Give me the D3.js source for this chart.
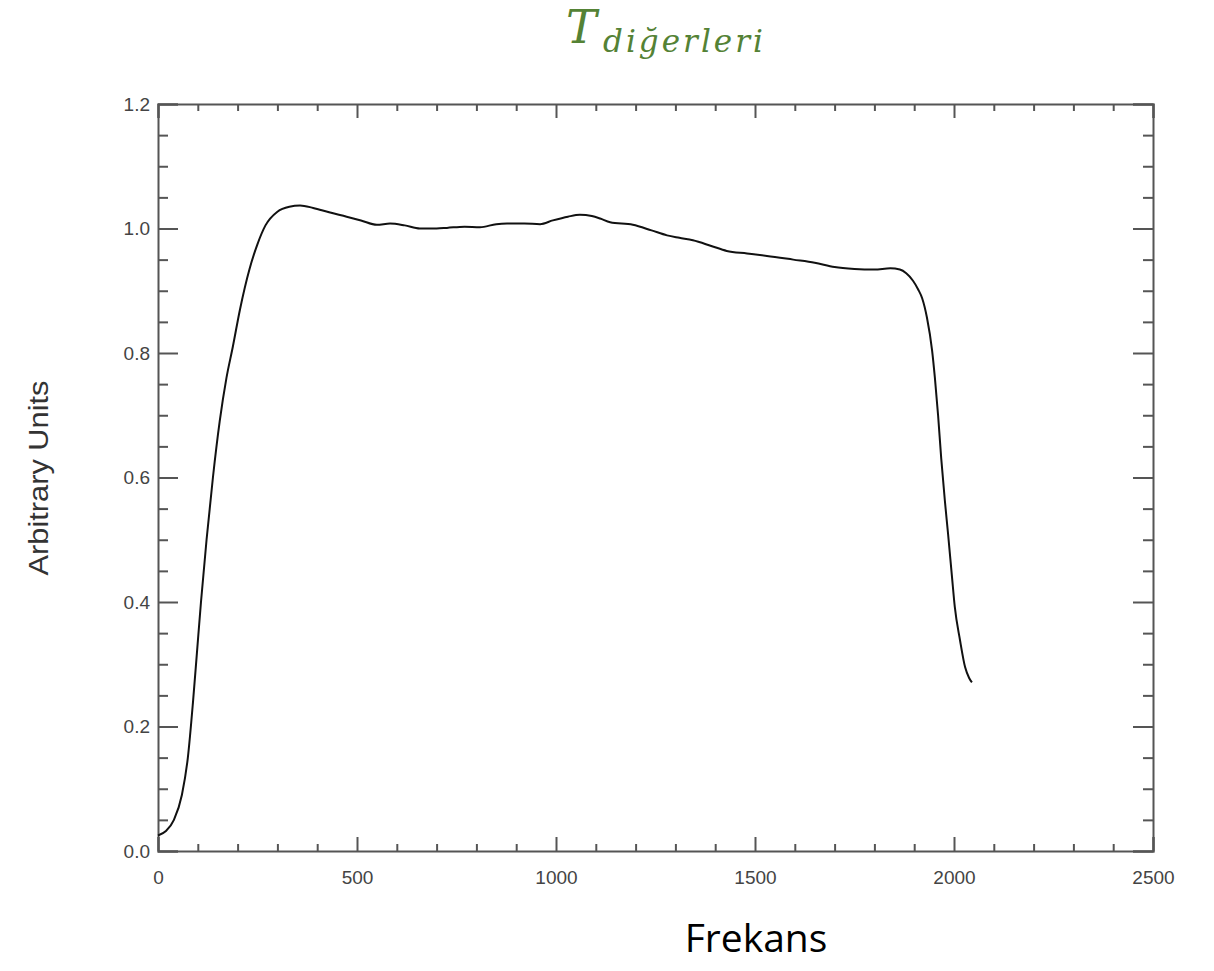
<!DOCTYPE html>
<html>
<head>
<meta charset="utf-8">
<script src="https://cdn.jsdelivr.net/npm/d3@7"></script>
<style>
  body { margin: 0; background: #fff; }
  .axis path, .axis line { stroke: #555; stroke-width: 2; }
  .axis text { fill: #444; font-family: "Liberation Sans", Arial, sans-serif; font-size: 19px; }
</style>
</head>
<body>
<div id="chart"></div>
<script>
// frequency (x) and response (y)
var freq = [0, 20, 40, 60, 75, 88, 98, 108, 122, 138, 155, 172, 188, 206, 230, 250, 270, 300, 330, 357,
  390, 430, 474, 510, 550, 583, 620, 658, 700, 726, 770, 809, 850, 877, 920, 960, 992, 1030, 1060, 1090,
  1111, 1136, 1193, 1240, 1279, 1310, 1344, 1390, 1429, 1480, 1530, 1596, 1650, 1700, 1750, 1800, 1840,
  1864, 1880, 1897, 1910, 1920, 1932, 1945, 1952, 1960, 1968, 1977, 1985, 1995, 2002, 2015, 2028, 2038, 2045];
var response = [0.025, 0.032, 0.05, 0.09, 0.15, 0.24, 0.32, 0.40, 0.50, 0.60, 0.69, 0.76, 0.81, 0.87, 0.935, 0.975, 1.005, 1.027, 1.035, 1.037,
  1.033, 1.026, 1.019, 1.013, 1.006, 1.008, 1.005, 1.000, 1.000, 1.001, 1.003, 1.002, 1.007, 1.008, 1.008, 1.007, 1.013, 1.019, 1.022, 1.020,
  1.016, 1.010, 1.006, 0.997, 0.989, 0.985, 0.981, 0.972, 0.964, 0.960, 0.956, 0.950, 0.945, 0.938, 0.935, 0.934, 0.936,
  0.934, 0.928, 0.916, 0.902, 0.888, 0.857, 0.804, 0.76, 0.70, 0.63, 0.563, 0.510, 0.440, 0.392, 0.339, 0.295, 0.278, 0.271];

var xMajor = [0, 500, 1000, 1500, 2000, 2500];
var yMajor = [0, 0.2, 0.4, 0.6, 0.8, 1.0, 1.2];

var width = 1214, height = 971;
var margin = {left: 158, right: 61, top: 104, bottom: 120};

var svg = d3.select('#chart').append('svg')
  .attr('width', width)
  .attr('height', height);

svg.append('rect').attr('width', width).attr('height', height).attr('fill', '#fff');

var x = d3.scaleLinear().domain([0, 2500]).range([margin.left, width - margin.right]);
var y = d3.scaleLinear().domain([0, 1.2]).range([height - margin.bottom, margin.top]);

var xMinor = d3.range(0, 2501, 100).filter(function(v) { return v % 500 !== 0; });
var yMinor = d3.range(0, 1.201, 0.05).filter(function(v) { return Math.round(v * 100) % 20 !== 0; });

// bottom
svg.append('g').attr('class', 'axis')
  .attr('transform', 'translate(0,' + y(0) + ')')
  .call(d3.axisBottom(x).tickValues(xMajor).tickSize(-14).tickPadding(20).tickFormat(d3.format('d')));
svg.append('g').attr('class', 'axis')
  .attr('transform', 'translate(0,' + y(0) + ')')
  .call(d3.axisBottom(x).tickValues(xMinor).tickSize(-7).tickFormat(''))
  .select('.domain').remove();
// top
svg.append('g').attr('class', 'axis')
  .attr('transform', 'translate(0,' + y(1.2) + ')')
  .call(d3.axisTop(x).tickValues(xMajor).tickSize(-14).tickFormat(''));
svg.append('g').attr('class', 'axis')
  .attr('transform', 'translate(0,' + y(1.2) + ')')
  .call(d3.axisTop(x).tickValues(xMinor).tickSize(-7).tickFormat(''))
  .select('.domain').remove();
// left
svg.append('g').attr('class', 'axis')
  .attr('transform', 'translate(' + x(0) + ',0)')
  .call(d3.axisLeft(y).tickValues(yMajor).tickSize(-20).tickPadding(8).tickFormat(d3.format('.1f')));
svg.append('g').attr('class', 'axis')
  .attr('transform', 'translate(' + x(0) + ',0)')
  .call(d3.axisLeft(y).tickValues(yMinor).tickSize(-10).tickFormat(''))
  .select('.domain').remove();
// right
svg.append('g').attr('class', 'axis')
  .attr('transform', 'translate(' + x(2500) + ',0)')
  .call(d3.axisRight(y).tickValues(yMajor).tickSize(-20).tickFormat(''));
svg.append('g').attr('class', 'axis')
  .attr('transform', 'translate(' + x(2500) + ',0)')
  .call(d3.axisRight(y).tickValues(yMinor).tickSize(-10).tickFormat(''))
  .select('.domain').remove();

var line = d3.line()
  .x(function(d, i) { return x(freq[i]); })
  .y(function(d) { return y(d); })
  .curve(d3.curveMonotoneX);

svg.append('path')
  .datum(response)
  .attr('d', line)
  .attr('fill', 'none')
  .attr('stroke', '#111')
  .attr('stroke-width', 2);

// axis titles
svg.append('text')
  .attr('transform', 'translate(48,478) rotate(-90)')
  .attr('text-anchor', 'middle')
  .attr('textLength', 195)
  .attr('lengthAdjust', 'spacingAndGlyphs')
  .style('font-family', '"Liberation Sans", Arial, sans-serif')
  .style('font-size', '27px')
  .style('fill', '#333')
  .text('Arbitrary Units');

svg.append('text')
  .attr('x', 756)
  .attr('y', 952)
  .attr('text-anchor', 'middle')
  .style('font-family', '"Open Sans", sans-serif')
  .style('font-size', '39px')
  .style('fill', '#000')
  .text('Frekans');

// title T_diğerleri
svg.append('text')
  .attr('x', 566)
  .attr('y', 43)
  .style('font-family', '"DejaVu Serif", serif')
  .style('font-style', 'italic')
  .style('font-size', '46px')
  .style('fill', '#548235')
  .text('T');
svg.append('text')
  .attr('x', 603)
  .attr('y', 52)
  .attr('textLength', 160)
  .attr('lengthAdjust', 'spacing')
  .style('font-family', '"DejaVu Serif", serif')
  .style('font-style', 'italic')
  .style('font-size', '31px')
  .style('fill', '#548235')
  .text('diğerleri');
</script>
</body>
</html>
